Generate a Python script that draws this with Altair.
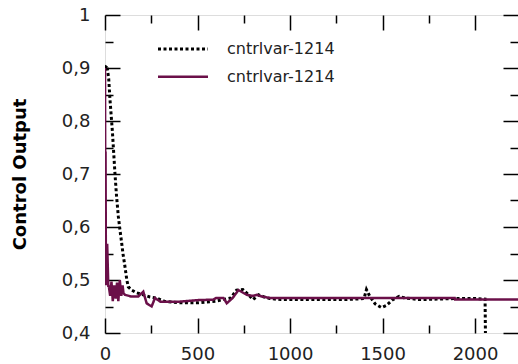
import altair as alt
import pandas as pd

# ---- data ----
black_t = [0, 10, 20, 27, 40, 54, 62, 72, 81, 90, 97, 108, 118, 126, 144, 170, 207, 243,
           279, 320, 400, 500, 600, 638, 680, 711, 745, 770, 800, 830, 860, 890, 950, 1100,
           1300, 1400, 1413, 1430, 1460, 1494, 1520, 1555, 1590, 1620, 1700, 1900, 2000,
           2054, 2056, 2060]
black_v = [0.900, 0.905, 0.880, 0.840, 0.780, 0.700, 0.660, 0.620, 0.594, 0.570, 0.550,
           0.525, 0.500, 0.487, 0.481, 0.476, 0.472, 0.468, 0.466, 0.460, 0.457, 0.457,
           0.460, 0.463, 0.466, 0.481, 0.482, 0.474, 0.463, 0.472, 0.468, 0.465, 0.463,
           0.463, 0.463, 0.465, 0.482, 0.470, 0.455, 0.448, 0.452, 0.463, 0.469, 0.466,
           0.463, 0.465, 0.465, 0.464, 0.400, 0.200]

purple_t = [0, 1, 3, 5, 8, 12, 18, 20, 28, 35, 42, 50, 58, 65, 72, 80, 88, 95, 100, 108,
            140, 180, 207, 225, 252, 270, 300, 400, 500, 585, 600, 640, 658, 690, 721,
            766, 800, 820, 847, 892, 1200, 1500, 1890, 1892, 2232]
purple_v = [0.900, 0.740, 0.740, 0.490, 0.566, 0.566, 0.487, 0.490, 0.470, 0.497, 0.460,
            0.490, 0.465, 0.495, 0.460, 0.500, 0.470, 0.490, 0.475, 0.472, 0.469, 0.469,
            0.478, 0.456, 0.450, 0.466, 0.459, 0.459, 0.462, 0.463, 0.466, 0.466, 0.456,
            0.466, 0.481, 0.472, 0.470, 0.472, 0.469, 0.466, 0.466, 0.466, 0.466, 0.463,
            0.463]

series_keys = ["A", "B"]
series_colors = ["#000000", "#6b1049"]
series_dash = [[3, 2.5], [1, 0]]
series_width = [3, 2.5]
series_label = "cntrlvar-1214"
x_ticks = [0, 250, 500, 750, 1000, 1250, 1500, 1750, 2000]
y_ticks = [0.4, 0.45, 0.5, 0.55, 0.6, 0.65, 0.7, 0.75, 0.8, 0.85, 0.9, 0.95, 1.0]
y_title = "Control Output"

rows = []
for i, (t, v) in enumerate(zip(black_t, black_v)):
    rows.append({"t": t, "v": v, "s": "A", "o": i})
for i, (t, v) in enumerate(zip(purple_t, purple_v)):
    rows.append({"t": t, "v": v, "s": "B", "o": i})
df = pd.DataFrame(rows)

FONT = "DejaVu Sans"
xs = alt.Scale(domain=[0, 2232], nice=False, zero=False)
ys = alt.Scale(domain=[0.4, 1.0], nice=False, zero=False)

x_tick_size = alt.ExprRef(expr="datum.value % 500 === 0 ? -15 : -8")
y_tick_size = alt.ExprRef(expr="abs(datum.value*10 - round(datum.value*10)) < 0.001 ? -15 : -8")
x_label_expr = "datum.value % 500 === 0 ? format(datum.value, 'd') : ''"
y_label_expr = ("abs(datum.value*10 - round(datum.value*10)) < 0.001 ? "
                "(datum.value == 1 ? '1' : replace(format(datum.value, '.1f'), '.', ',')) : ''")

common_axis = dict(domain=False, grid=False, tickColor="black", tickWidth=1.5,
                   labelFont=FONT, labelFontSize=18, labelColor="#222",
                   labelFlush=False, labelOverlap=False)

lines = alt.Chart(df).mark_line(clip=True, interpolate="linear").encode(
    x=alt.X("t:Q", scale=xs,
            axis=alt.Axis(orient="bottom", values=x_ticks, tickSize=x_tick_size,
                          labelExpr=x_label_expr, labelPadding=27, title=None,
                          **common_axis)),
    y=alt.Y("v:Q", scale=ys,
            axis=alt.Axis(orient="left", values=y_ticks, tickSize=y_tick_size,
                          labelExpr=y_label_expr, labelPadding=30, title=y_title,
                          titleFont=FONT, titleFontSize=18, titleFontWeight="bold",
                          titleColor="black", titleX=-85, titleY=159, titleAngle=-90,
                          titleAlign="center", titleBaseline="middle",
                          **common_axis)),
    color=alt.Color("s:N", scale=alt.Scale(domain=series_keys, range=series_colors), legend=None),
    strokeDash=alt.StrokeDash("s:N", scale=alt.Scale(domain=series_keys, range=series_dash), legend=None),
    strokeWidth=alt.StrokeWidth("s:N", scale=alt.Scale(domain=series_keys, range=series_width), legend=None),
    order="o:Q",
)

frame_axes = alt.Chart(df).mark_point(opacity=0).encode(
    x=alt.X("t:Q", scale=xs,
            axis=alt.Axis(orient="top", values=x_ticks, tickSize=x_tick_size,
                          labels=False, title=None, domain=False, grid=False,
                          tickColor="black", tickWidth=1.5)),
    y=alt.Y("v:Q", scale=ys,
            axis=alt.Axis(orient="right", values=y_ticks, tickSize=y_tick_size,
                          labels=False, title=None, domain=False, grid=False,
                          tickColor="black", tickWidth=1.5)),
)

# manual legend (two identical labels, so drawn by hand)
legend_df = pd.DataFrame({"label": [series_label]})
legend_rows = [34.0, 61.7]
legend_layers = []
for k in range(2):
    legend_layers.append(
        alt.Chart(legend_df).mark_rule(color=series_colors[k], strokeDash=series_dash[k],
                                       strokeWidth=series_width[k]).encode(
            x=alt.value(53), x2=alt.value(103), y=alt.value(legend_rows[k]))
    )
    legend_layers.append(
        alt.Chart(legend_df).mark_text(align="left", baseline="middle", font=FONT,
                                       fontSize=16, color="#222").encode(
            x=alt.value(122), y=alt.value(legend_rows[k]), text="label:N")
    )

chart = alt.layer(lines, frame_axes, *legend_layers).resolve_axis(
    x="independent", y="independent").properties(
    width=413, height=318,
    autosize=alt.AutoSizeParams(type="none"),
    padding={"left": 105, "top": 15, "right": 0, "bottom": 31},
).configure_view(stroke="black", strokeWidth=2).configure(background="white")

chart.save("out.html", embed_options={"renderer": "svg", "actions": False})
